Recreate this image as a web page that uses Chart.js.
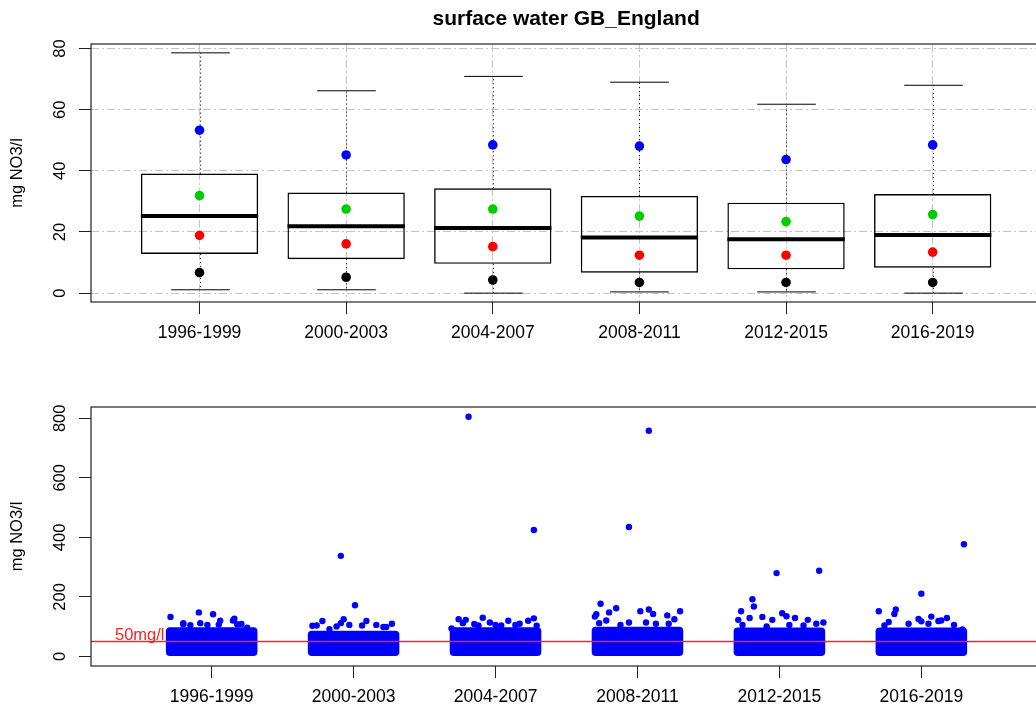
<!DOCTYPE html>
<html>
<head>
<meta charset="utf-8">
<script src="https://cdn.jsdelivr.net/npm/chart.js@4"></script>
<style>
  html, body { margin: 0; padding: 0; background: #fff; overflow: hidden; }
  #contenedor { position: relative; width: 1046px; height: 711px; }
  canvas { position: absolute; left: 0; display: block; }
  #graficoCaja { top: 0; }
  #graficoPuntos { top: 355px; }
</style>
</head>
<body>
<div id="contenedor">
  <canvas id="graficoCaja" width="1046" height="355"></canvas>
  <canvas id="graficoPuntos" width="1046" height="356"></canvas>
</div>
<script>
const periodos = ['1996-1999', '2000-2003', '2004-2007', '2008-2011', '2012-2015', '2016-2019'];

// caja superior
const minimo  = [1.1, 1.1, 0.0, 0.4, 0.4, 0.0];
const q1      = [12.8, 11.1, 9.6, 6.7, 7.8, 8.3];
const mediana = [25.2, 21.9, 21.3, 18.2, 17.6, 19.0];
const q3      = [39.1, 32.9, 34.3, 31.8, 29.6, 32.4];
const maximo  = [78.6, 66.2, 70.9, 69.0, 61.8, 68.0];

const puntosAzules = [53.3, 45.2, 48.5, 48.1, 43.7, 48.5];
const puntosVerdes = [31.9, 27.5, 27.5, 25.2, 23.4, 25.7];
const puntosRojos  = [18.9, 16.1, 15.2, 12.4, 12.4, 13.4];
const puntosNegros = [6.7, 5.2, 4.3, 3.5, 3.5, 3.5];

const ticksCaja = [0, 20, 40, 60, 80];

// grafico inferior: nube densa de cada periodo + puntos sueltos
const nubeMin = [0, 0, 0, 0, 0, 0];
const nubeMax = [98, 86, 98, 100, 97, 97];

const sueltosX = [
  0.71, 0.91, 1.01, 1.16, 1.15, 1.06, 1.21, 0.80, 0.92, 0.80, 0.85, 0.97, 1.05, 1.18, 1.25,
  2.01, 1.78, 1.93, 2.09, 2.27, 1.83, 1.71, 2.21, 1.91, 1.91, 1.74, 1.88, 1.97, 2.06, 2.16, 2.23,
  2.74, 2.79, 2.91, 2.96, 3.09, 3.23, 3.27, 3.17, 2.85, 2.69, 2.81, 3.27, 3.29, 2.77, 3.00, 3.04, 3.14, 2.88,
  3.74, 3.85, 3.80, 3.71, 3.70, 4.02, 4.08, 4.11, 4.21, 4.30, 4.06, 4.26, 3.73, 3.94, 4.08, 3.78, 3.94, 4.13, 4.22, 3.88,
  4.81, 4.82, 4.73, 4.79, 4.88, 4.95, 5.02, 5.05, 5.11, 5.20, 5.31, 4.71, 4.98, 5.28, 4.74, 4.91, 5.07, 5.17, 5.26,
  6.00, 5.70, 5.82, 5.81, 5.98, 6.07, 6.18, 6.14, 6.05, 6.29, 6.23, 6.30, 5.77, 5.91, 6.00, 6.12, 5.74
];
const sueltosY = [
  133, 148, 142, 127, 121, 120, 109, 112, 112, 108, 105, 106, 107, 108, 97,
  172, 119, 125, 119, 110, 92, 103, 99, 112, 338, 104, 101, 106, 104, 106, 99,
  125, 123, 130, 114, 120, 120, 128, 110, 109, 94, 805, 425, 103, 112, 106, 104, 106, 104,
  177, 162, 148, 142, 134, 152, 158, 143, 138, 152, 114, 125, 112, 435, 758, 121, 114, 110, 110, 106,
  192, 168, 152, 129, 133, 123, 145, 135, 129, 123, 114, 123, 280, 288, 106, 101, 106, 104, 110,
  211, 152, 158, 143, 126, 134, 129, 121, 110, 91, 106, 377, 116, 110, 118, 119, 104
];

const ticksPuntos = [0, 200, 400, 600, 800];
const limite = 50;

Chart.defaults.font.family = "'Liberation Sans', Arial, sans-serif";
Chart.defaults.font.size = 17.5;
Chart.defaults.color = '#000';
Chart.defaults.animation = false;

const colorEje = '#222';
const colorRejilla = '#c4c4c4';

function ejeX(min, max, rejilla) {
  return {
    type: 'linear',
    min: min,
    max: max,
    offset: false,
    z: 1,
    afterBuildTicks: s => { s.ticks = periodos.map((p, i) => ({ value: i + 1 })); },
    afterFit: s => { s.height = rejilla ? 53 : 45; },
    ticks: { callback: v => periodos[v - 1], padding: 9, maxRotation: 0, autoSkip: false },
    grid: {
      offset: false,
      drawOnChartArea: rejilla,
      color: colorRejilla,
      tickColor: colorEje,
      tickLength: 12,
      tickWidth: 1
    },
    border: { display: false, dash: [8, 3, 2, 3] }
  };
}

function ejeY(min, max, marcas, rejilla) {
  return {
    type: 'linear',
    min: min,
    max: max,
    z: 1,
    afterBuildTicks: s => { s.ticks = marcas.map(v => ({ value: v })); },
    afterFit: s => { s.width = 91; },
    ticks: { display: false },
    title: { display: true, text: 'mg NO3/l', font: { size: 16.5 }, padding: { top: 8, bottom: 0 } },
    grid: {
      drawOnChartArea: rejilla,
      color: colorRejilla,
      tickColor: colorEje,
      tickLength: 12,
      tickWidth: 1
    },
    border: { display: false, dash: [8, 3, 2, 3] }
  };
}

// marco y etiquetas giradas del eje y
const marco = {
  id: 'marco',
  afterDraw(chart) {
    const { ctx, chartArea: a, scales: { y } } = chart;
    ctx.save();
    ctx.strokeStyle = colorEje;
    ctx.lineWidth = 1.2;
    ctx.strokeRect(a.left, a.top, a.right - a.left, a.bottom - a.top);
    ctx.fillStyle = '#000';
    ctx.font = "16.5px 'Liberation Sans', Arial, sans-serif";
    ctx.textAlign = 'center';
    ctx.textBaseline = 'middle';
    y.ticks.forEach(t => {
      ctx.save();
      ctx.translate(60, y.getPixelForValue(t.value));
      ctx.rotate(-Math.PI / 2);
      ctx.fillText(String(t.value), 0, 0);
      ctx.restore();
    });
    ctx.restore();
  }
};

// bigotes, topes y medianas
const bigotes = {
  id: 'bigotes',
  beforeDatasetsDraw(chart) {
    const { ctx, scales: { x, y } } = chart;
    const medio = (x.getPixelForValue(1.2) - x.getPixelForValue(1));
    ctx.save();
    ctx.strokeStyle = '#000';
    ctx.lineWidth = 1;
    periodos.forEach((p, i) => {
      const px = Math.round(x.getPixelForValue(i + 1)) + 0.5;
      ctx.setLineDash([1, 3]);
      ctx.beginPath();
      ctx.moveTo(px, y.getPixelForValue(q3[i]));
      ctx.lineTo(px, y.getPixelForValue(maximo[i]));
      ctx.moveTo(px, y.getPixelForValue(q1[i]));
      ctx.lineTo(px, y.getPixelForValue(minimo[i]));
      ctx.stroke();
      ctx.setLineDash([]);
      ctx.beginPath();
      ctx.moveTo(px - medio, y.getPixelForValue(maximo[i]));
      ctx.lineTo(px + medio, y.getPixelForValue(maximo[i]));
      ctx.moveTo(px - medio, y.getPixelForValue(minimo[i]));
      ctx.lineTo(px + medio, y.getPixelForValue(minimo[i]));
      ctx.stroke();
    });
    ctx.restore();
  },
  afterDatasetsDraw(chart) {
    const { ctx, scales: { y } } = chart;
    const meta = chart.getDatasetMeta(4);
    ctx.save();
    ctx.strokeStyle = '#000';
    ctx.lineWidth = 4;
    meta.data.forEach((barra, i) => {
      const py = y.getPixelForValue(mediana[i]);
      ctx.beginPath();
      ctx.moveTo(barra.x - barra.width / 2, py);
      ctx.lineTo(barra.x + barra.width / 2, py);
      ctx.stroke();
    });
    ctx.restore();
  }
};

// linea de 50 mg/l
const lineaLimite = {
  id: 'lineaLimite',
  beforeDatasetsDraw(chart) {
    const { ctx, chartArea: a, scales: { y } } = chart;
    ctx.save();
    ctx.fillStyle = '#ff2020';
    ctx.font = "16.5px 'Liberation Sans', Arial, sans-serif";
    ctx.textAlign = 'left';
    ctx.textBaseline = 'bottom';
    ctx.fillText('50mg/l', a.left + 24, y.getPixelForValue(limite) + 2);
    ctx.restore();
  },
  afterDatasetsDraw(chart) {
    const { ctx, chartArea: a, scales: { y } } = chart;
    const py = y.getPixelForValue(limite);
    ctx.save();
    ctx.strokeStyle = '#ff2020';
    ctx.lineWidth = 1.5;
    ctx.beginPath();
    ctx.moveTo(a.left, py);
    ctx.lineTo(a.right, py);
    ctx.stroke();
    ctx.restore();
  }
};

function serie(valores, color) {
  return {
    type: 'scatter',
    data: valores.map((v, i) => ({ x: i + 1, y: v })),
    backgroundColor: color,
    borderWidth: 0,
    pointRadius: 4.8,
    order: 1
  };
}

new Chart(document.getElementById('graficoCaja'), {
  type: 'bar',
  data: {
    datasets: [
      serie(puntosAzules, '#0000ff'),
      serie(puntosVerdes, '#00cd00'),
      serie(puntosRojos, '#ff0000'),
      serie(puntosNegros, '#000000'),
      {
        type: 'bar',
        data: periodos.map((p, i) => ({ x: i + 1, y: [q1[i], q3[i]] })),
        backgroundColor: 'rgba(0,0,0,0)',
        borderColor: '#000',
        borderWidth: 1.4,
        borderSkipped: false,
        barPercentage: 0.8,
        categoryPercentage: 1,
        grouped: false,
        order: 10
      }
    ]
  },
  options: {
    responsive: false,
    layout: { padding: { top: 0, right: 1, bottom: 0, left: 0 } },
    plugins: {
      legend: { display: false },
      tooltip: { enabled: false },
      title: {
        display: true,
        text: 'surface water GB_England',
        fullSize: false,
        font: { size: 21, weight: 'bold' },
        color: '#000',
        padding: { top: 7, bottom: 11.8 }
      }
    },
    scales: {
      x: ejeX(0.26, 6.74, true),
      y: ejeY(-2.9, 81.5, ticksCaja, true)
    }
  },
  plugins: [bigotes, marco]
});

new Chart(document.getElementById('graficoPuntos'), {
  type: 'bar',
  data: {
    datasets: [
      {
        type: 'scatter',
        data: sueltosX.map((v, i) => ({ x: v, y: sueltosY[i] })),
        backgroundColor: '#0000ff',
        borderWidth: 0,
        pointRadius: 3.2,
        order: 1
      },
      {
        type: 'bar',
        data: periodos.map((p, i) => ({ x: i + 1, y: [nubeMin[i], nubeMax[i]] })),
        backgroundColor: '#0000ff',
        borderWidth: 0,
        borderRadius: 4,
        borderSkipped: false,
        barPercentage: 0.645,
        categoryPercentage: 1,
        grouped: false,
        order: 10
      }
    ]
  },
  options: {
    responsive: false,
    layout: { padding: { top: 52, right: 1, bottom: 0, left: 0 } },
    plugins: {
      legend: { display: false },
      tooltip: { enabled: false }
    },
    scales: {
      x: ejeX(0.15, 6.85, false),
      y: ejeY(-32, 838, ticksPuntos, false)
    }
  },
  plugins: [lineaLimite, marco]
});
</script>
</body>
</html>
